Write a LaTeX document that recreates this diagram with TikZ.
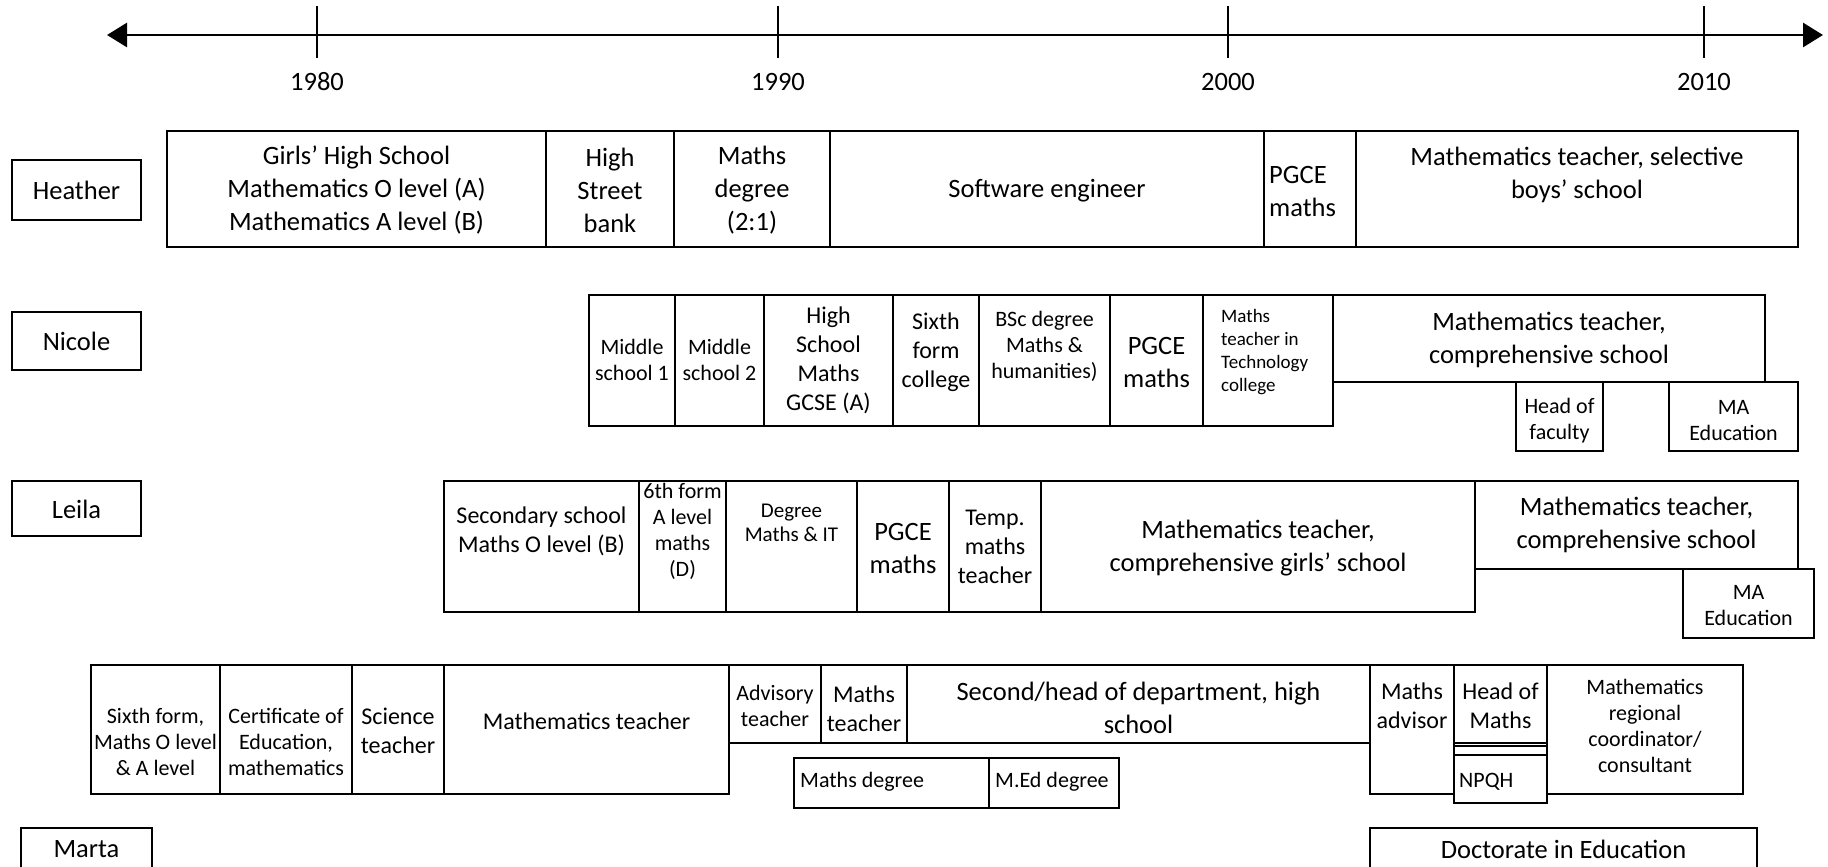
\documentclass[tikz,border=0pt]{standalone}
\usepackage{fontspec}
\setmainfont{Carlito}
\usetikzlibrary{arrows.meta}
\tikzset{
  box/.style={draw, line width=2.1pt},
  txt/.style={align=center, inner sep=0pt},
  ltxt/.style={align=left, inner sep=0pt, anchor=west},
  fL/.style={font=\fontsize{26.5}{33}\selectfont},
  fM/.style={font=\fontsize{24}{29}\selectfont},
  fS/.style={font=\fontsize{22}{26}\selectfont},
  fT/.style={font=\fontsize{19}{23}\selectfont},
  fD/.style={font=\fontsize{21}{24}\selectfont},
  tick/.style={line width=1.6pt},
  axis/.style={line width=2.8pt, {Triangle[length=20pt,width=24pt]}-{Triangle[length=20pt,width=24pt]}},
}
\newcommand{\bx}[4]{\draw[box] (#1,#2) rectangle (#3,#4);}
\begin{document}
\begin{tikzpicture}[x=1pt,y=-1pt]
\useasboundingbox (0,0) rectangle (1828,867);

% time axis
\coordinate (axL) at (107,35);
\coordinate (axR) at (1823,35);
\draw[axis] (axL) -- (axR);
\foreach \xx/\yr in {317/1980, 778/1990, 1228/2000, 1704/2010}{
  \draw[tick] (\xx,6) -- (\xx,58);
  \node[txt,fL] (y\yr) at (\xx,82) {\yr};
}

% ---------------- Heather ----------------
\bx{12}{160}{141}{220}
\node[txt,fL] (heather) at (76.5,190) {Heather};
\bx{167}{131}{546}{247}
\node[txt,fL] (h1) at (356.5,190) {Girls’ High School\\Mathematics O level (A)\\Mathematics A level (B)};
\bx{546}{131}{674}{247}
\node[txt,fL] (h2) at (610,190) {High\\Street\\bank};
\bx{674}{131}{830}{247}
\node[txt,fL] (h3) at (752,190) {Maths\\degree\\(2:1)};
\bx{830}{131}{1264}{247}
\node[txt,fL] (h4) at (1047,191) {Software engineer};
\bx{1264}{131}{1356}{247}
\node[ltxt,fL] (h5) at (1269,191) {PGCE\\maths};
\bx{1356}{131}{1798}{247}
\node[txt,fL] (h6) at (1577,175) {Mathematics teacher, selective\\boys’ school};

% ---------------- Nicole ----------------
\bx{12}{312}{141}{370}
\node[txt,fL] (nicole) at (76.5,341) {Nicole};
\bx{589}{295}{675}{426}
\node[txt,fS] (n1) at (632,360) {Middle\\school 1};
\bx{675}{295}{764}{426}
\node[txt,fS] (n2) at (719.5,360) {Middle\\school 2};
\bx{764}{295}{893}{426}
\node[txt,fM] (n3) at (828.5,360) {High\\School\\Maths\\GCSE (A)};
\bx{893}{295}{979}{426}
\node[txt,fM] (n4) at (936,352) {Sixth\\form\\college};
\bx{979}{295}{1110}{426}
\node[txt,fS] (n5) at (1044.5,346) {BSc degree\\Maths \&\\humanities)};
\bx{1110}{295}{1203}{426}
\node[txt,fL] (n6) at (1156.5,362) {PGCE\\maths};
\bx{1203}{295}{1333}{426}
\node[ltxt,fT] (n7) at (1221,352) {Maths\\teacher in\\Technology\\college};
\bx{1333}{295}{1765}{382}
\node[txt,fL] (n8) at (1549,340) {Mathematics teacher,\\comprehensive school};
\bx{1516}{382}{1603}{451}
\node[txt,fS] (n9) at (1559.5,421) {Head of\\faculty};
\bx{1669}{382}{1798}{451}
\node[txt,fS] (n10) at (1733.5,421) {MA\\Education};

% ---------------- Leila ----------------
\bx{12}{481}{141}{536}
\node[txt,fL] (leila) at (76.5,509) {Leila};
\bx{444}{481}{639}{612}
\node[txt,fM] (l1) at (541.5,531) {Secondary school\\Maths O level (B)};
\bx{639}{481}{726}{612}
\node[txt,fS] (l2) at (682.5,531) {6th form\\A level\\maths\\(D)};
\bx{726}{481}{857}{612}
\node[txt,fD] (l3) at (791.5,523) {Degree\\Maths \& IT};
\bx{857}{481}{949}{612}
\node[txt,fL] (l4) at (903,548) {PGCE\\maths};
\bx{949}{481}{1041}{612}
\node[txt,fM] (l5) at (995,547) {Temp.\\maths\\teacher};
\bx{1041}{481}{1475}{612}
\node[txt,fL] (l6) at (1258,548) {Mathematics teacher,\\comprehensive girls’ school};
\bx{1475}{481}{1798}{569}
\node[txt,fL] (l7) at (1636.5,525) {Mathematics teacher,\\comprehensive school};
\bx{1683}{569}{1814}{638}
\node[txt,fS] (l8) at (1748.5,606) {MA\\Education};

% ---------------- Marta ----------------
\bx{21}{828}{152}{880}
\node[txt,fL] (marta) at (86.5,849) {Marta};
\bx{91}{665}{220}{794}
\node[txt,fS] (m1) at (155.5,742) {Sixth form,\\Maths O level\\\& A level};
\bx{220}{665}{352}{794}
\node[txt,fS] (m2) at (286,742) {Certificate of\\Education,\\mathematics};
\bx{352}{665}{444}{794}
\node[txt,fM] (m3) at (398,731) {Science\\teacher};
\bx{444}{665}{729}{794}
\node[txt,fM] (m4) at (586.5,721) {Mathematics teacher};
\bx{729}{665}{821}{743}
\node[txt,fS] (m5) at (775,706) {Advisory\\teacher};
\bx{821}{665}{907}{743}
\node[txt,fM] (m6) at (864,709) {Maths\\teacher};
\bx{907}{665}{1370}{743}
\node[txt,fL] (m7) at (1138.5,708) {Second/head of department, high\\school};
\bx{794}{758}{989}{808}
\node[ltxt,fS] (m8) at (800,782) {Maths degree};
\bx{989}{758}{1119}{808}
\node[ltxt,fS] (m9) at (995,782) {M.Ed degree};
\bx{1370}{665}{1454}{794}
\node[txt,fM] (m10) at (1412,706) {Maths\\advisor};
\bx{1454}{665}{1547}{743}
\node[txt,fM] (m11) at (1500.5,706) {Head of\\Maths};
\bx{1454}{746}{1547}{755}
\bx{1454}{755}{1547}{803}
\node[ltxt,fS] (m12) at (1459,782) {NPQH};
\bx{1547}{665}{1743}{794}
\node[txt,fS] (m13) at (1645,726) {Mathematics\\regional\\coordinator/\\consultant};
\bx{1370}{828}{1757}{880}
\node[txt,fL] (m14) at (1563.5,849) {Doctorate in Education};
\end{tikzpicture}
\end{document}
